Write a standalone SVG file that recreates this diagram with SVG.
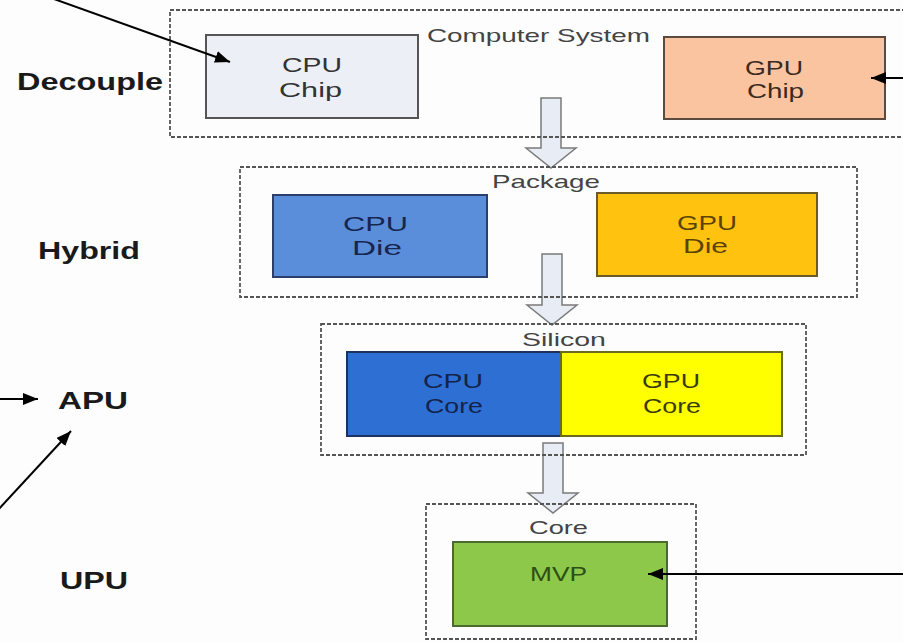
<svg xmlns="http://www.w3.org/2000/svg" width="903" height="642" viewBox="0 0 903 642">
  <defs>
    <marker id="tip" markerUnits="userSpaceOnUse" markerWidth="16" markerHeight="12" refX="15" refY="6" orient="auto">
      <path d="M0,0 L15,6 L0,12 z" fill="#000"/>
    </marker>
    <style>
      .level { font-family: "Liberation Sans", Arial, sans-serif; font-weight: bold; font-size: 24px; fill: #1a1a1a; }
      .box-text { font-family: "Liberation Sans", Arial, sans-serif; font-size: 21px; }
      .frame-label { font-family: "Liberation Sans", Arial, sans-serif; font-size: 19px; fill: #444; }
      .frame { fill: none; stroke: #555; stroke-width: 1.8; stroke-dasharray: 4 2; }
      .flow { fill: #e7ecf5; stroke: #7a7a7a; stroke-width: 1.5; }
      .link { fill: none; stroke: #000; stroke-width: 2; marker-end: url(#tip); }
    </style>
  </defs>

  <rect width="903" height="642" fill="#fdfdfd"/>

  <!-- level labels -->
  <g id="levels">
    <text class="level" x="17" y="90" font-size="25" textLength="146" lengthAdjust="spacingAndGlyphs">Decouple</text>
    <text class="level" x="38" y="259" textLength="102" lengthAdjust="spacingAndGlyphs">Hybrid</text>
    <text class="level" x="58" y="409" textLength="70" lengthAdjust="spacingAndGlyphs">APU</text>
    <text class="level" x="60" y="589" textLength="68" lengthAdjust="spacingAndGlyphs">UPU</text>
  </g>

  <!-- block arrows between integration stages -->
  <g id="stage-arrows">
    <path class="flow" d="M541,98 H561 V148 H576 L551,168 L526,148 H541 Z"/>
    <path class="flow" d="M542,254 H562 V305 H577 L552,325 L527,305 H542 Z"/>
    <path class="flow" d="M543,443 H563 V493 H578 L553,513 L528,493 H543 Z"/>
  </g>

  <!-- Computer System -->
  <g id="computer-system">
    <rect class="frame" x="170" y="10" width="740" height="127"/>
    <text class="frame-label" x="427" y="42" textLength="223" lengthAdjust="spacingAndGlyphs">Computer System</text>
  </g>
  <g id="cpu-chip">
    <rect x="206" y="35" width="212" height="83" fill="#eceff5" stroke="#555" stroke-width="2"/>
    <text class="box-text" x="282" y="72" fill="#333" textLength="60" lengthAdjust="spacingAndGlyphs">CPU</text>
    <text class="box-text" x="279" y="97" fill="#333" textLength="63" lengthAdjust="spacingAndGlyphs">Chip</text>
  </g>
  <g id="gpu-chip">
    <rect x="664" y="37" width="221" height="82" fill="#f9c49f" stroke="#5a4a40" stroke-width="2"/>
    <text class="box-text" x="745" y="75" fill="#3a2a20" textLength="58" lengthAdjust="spacingAndGlyphs">GPU</text>
    <text class="box-text" x="747" y="98" fill="#3a2a20" textLength="57" lengthAdjust="spacingAndGlyphs">Chip</text>
  </g>

  <!-- Package -->
  <g id="package">
    <rect class="frame" x="240" y="167" width="617" height="130"/>
    <text class="frame-label" x="492" y="188" textLength="108" lengthAdjust="spacingAndGlyphs">Package</text>
  </g>
  <g id="cpu-die">
    <rect x="273" y="195" width="214" height="82" fill="#5a8edb" stroke="#2a3f6a" stroke-width="2"/>
    <text class="box-text" x="343" y="231" fill="#16264f" textLength="65" lengthAdjust="spacingAndGlyphs">CPU</text>
    <text class="box-text" x="352" y="255" fill="#16264f" textLength="50" lengthAdjust="spacingAndGlyphs">Die</text>
  </g>
  <g id="gpu-die">
    <rect x="597" y="193" width="220" height="83" fill="#ffc20e" stroke="#6b5a2a" stroke-width="2"/>
    <text class="box-text" x="677" y="230" fill="#5a4200" textLength="60" lengthAdjust="spacingAndGlyphs">GPU</text>
    <text class="box-text" x="683" y="253" fill="#5a4200" textLength="45" lengthAdjust="spacingAndGlyphs">Die</text>
  </g>

  <!-- Silicon -->
  <g id="silicon">
    <rect class="frame" x="321" y="324" width="485" height="131"/>
    <text class="frame-label" x="522" y="346" textLength="84" lengthAdjust="spacingAndGlyphs">Silicon</text>
  </g>
  <g id="cpu-core">
    <rect x="347" y="352" width="214" height="84" fill="#2e6fd4" stroke="#1e3260" stroke-width="2"/>
    <text class="box-text" x="423" y="388" fill="#14234a" textLength="60" lengthAdjust="spacingAndGlyphs">CPU</text>
    <text class="box-text" x="425" y="413" fill="#14234a" textLength="58" lengthAdjust="spacingAndGlyphs">Core</text>
  </g>
  <g id="gpu-core">
    <rect x="561" y="352" width="221" height="84" fill="#ffff00" stroke="#6a6a20" stroke-width="2"/>
    <text class="box-text" x="642" y="388" fill="#3a3a10" textLength="58" lengthAdjust="spacingAndGlyphs">GPU</text>
    <text class="box-text" x="643" y="413" fill="#3a3a10" textLength="58" lengthAdjust="spacingAndGlyphs">Core</text>
  </g>

  <!-- Core -->
  <g id="core">
    <rect class="frame" x="426" y="504" width="270" height="135"/>
    <text class="frame-label" x="529" y="534" font-size="16" textLength="59" lengthAdjust="spacingAndGlyphs">Core</text>
  </g>
  <g id="mvp">
    <rect x="453" y="542" width="214" height="84" fill="#8ec84a" stroke="#4a6a30" stroke-width="2"/>
    <text class="box-text" x="530" y="581" font-size="18" fill="#2d4f14" textLength="57" lengthAdjust="spacingAndGlyphs">MVP</text>
  </g>

  <!-- pointer arrows -->
  <g id="connectors">
    <line class="link" x1="40" y1="-6" x2="230" y2="62"/>
    <line class="link" x1="910" y1="78" x2="871" y2="78"/>
    <line class="link" x1="-2" y1="399" x2="38" y2="399"/>
    <line class="link" x1="-2" y1="510" x2="71" y2="431"/>
    <line class="link" x1="910" y1="574" x2="648" y2="574"/>
  </g>
</svg>
